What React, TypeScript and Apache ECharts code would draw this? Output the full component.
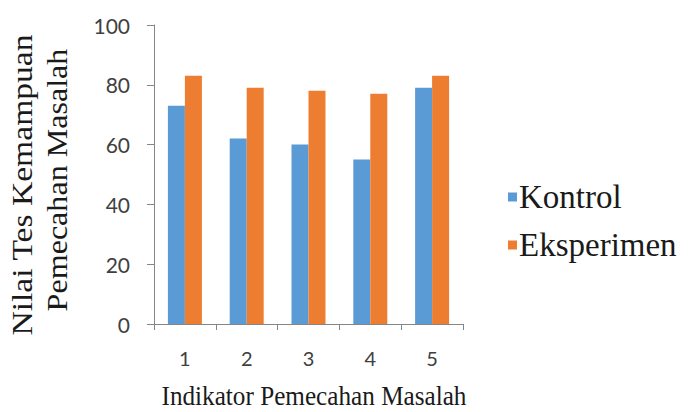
import React, { useEffect, useRef } from "react";
import * as echarts from "echarts";

const categories = ["1", "2", "3", "4", "5"];
const kontrol = [73, 62, 60, 55, 79];
const eksperimen = [83, 79, 78, 77, 83];
const seriesNames = ["Kontrol", "Eksperimen"];
const xTitle = "Indikator Pemecahan Masalah";
const yTitleLines = ["Nilai Tes Kemampuan", "Pemecahan Masalah"];

const serif = "Liberation Serif";
const sans = "Lato";
const axisColor = "#868686";

export default function App() {
  const ref = useRef<HTMLDivElement>(null);
  useEffect(() => {
    if (!ref.current) return;
    const chart = echarts.init(ref.current, null, { renderer: "svg" });
    chart.setOption({
      animation: false,
      backgroundColor: "#ffffff",
      grid: { left: 154, top: 25, width: 309, height: 299, containLabel: false },
      legend: {
        orient: "vertical",
        left: 508,
        top: 180,
        padding: 0,
        itemWidth: 9,
        itemHeight: 9,
        itemGap: 14,
        icon: "rect",
        data: seriesNames,
        textStyle: { fontFamily: serif, fontSize: 33, lineHeight: 34, color: "#1a1a1a", padding: [0, 0, 0, -3] },
      },
      xAxis: {
        type: "category",
        data: categories,
        boundaryGap: true,
        axisLine: { lineStyle: { color: axisColor, width: 1 } },
        axisTick: { show: true, alignWithLabel: false, length: 6, lineStyle: { color: axisColor } },
        axisLabel: { fontFamily: sans, fontSize: 20, color: "#404040", margin: 24 },
        splitLine: { show: false },
      },
      yAxis: {
        type: "value",
        min: 0,
        max: 100,
        interval: 20,
        axisLine: { show: true, lineStyle: { color: axisColor, width: 1 } },
        axisTick: { show: true, length: 7, lineStyle: { color: axisColor } },
        axisLabel: { fontFamily: sans, fontSize: 21, color: "#404040", margin: 24 },
        splitLine: { show: false },
      },
      series: [
        {
          name: seriesNames[0],
          type: "bar",
          data: kontrol,
          itemStyle: { color: "#5B9BD5" },
          barGap: "0%",
          barCategoryGap: "45%",
        },
        {
          name: seriesNames[1],
          type: "bar",
          data: eksperimen,
          itemStyle: { color: "#ED7D31" },
          barGap: "0%",
          barCategoryGap: "45%",
        },
      ],
      graphic: [
        {
          type: "text",
          x: 314,
          y: 396,
          scaleX: 0.9,
          style: {
            text: xTitle,
            fontFamily: serif,
            fontSize: 28,
            fill: "#1a1a1a",
            textAlign: "center",
            textVerticalAlign: "middle",
          },
        },
        {
          type: "text",
          x: 22,
          y: 185,
          rotation: Math.PI / 2,
          scaleX: 1.12,
          style: {
            text: yTitleLines[0],
            fontFamily: serif,
            fontSize: 30,
            fill: "#1a1a1a",
            textAlign: "center",
            textVerticalAlign: "middle",
          },
        },
        {
          type: "text",
          x: 57,
          y: 180,
          rotation: Math.PI / 2,
          scaleX: 1.07,
          style: {
            text: yTitleLines[1],
            fontFamily: serif,
            fontSize: 30,
            fill: "#1a1a1a",
            textAlign: "center",
            textVerticalAlign: "middle",
          },
        },
      ],
    });
    return () => chart.dispose();
  }, []);
  return <div ref={ref} style={{ width: 688, height: 412, position: "absolute", left: 0, top: 0 }} />;
}
